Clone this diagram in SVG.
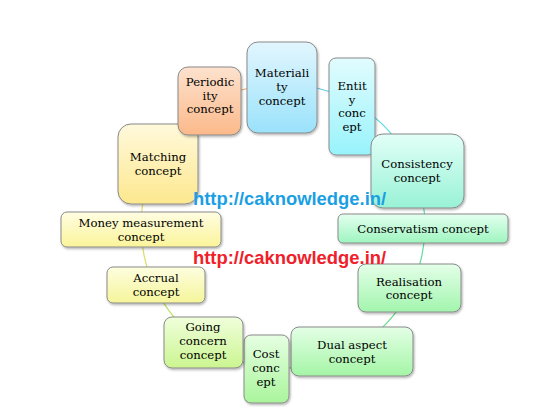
<svg xmlns="http://www.w3.org/2000/svg" width="555" height="415" viewBox="0 0 555 415">
<style>
.n rect{stroke:#8a8a8a;stroke-width:1;filter:url(#sh)}
.n text{font-family:"DejaVu Serif","Liberation Serif",serif;font-size:11.7px;fill:#000;text-anchor:middle}
.c path{fill:none;stroke-width:1.2}
.w{font-family:"Liberation Sans",Arial,sans-serif;font-size:18.4px;font-weight:bold}
</style>
<defs>
<filter id="sh" x="-20%" y="-20%" width="140%" height="140%"><feDropShadow dx="1" dy="1.5" stdDeviation="1.2" flood-color="#000" flood-opacity="0.3"/></filter>
<linearGradient id="gMat" x1="0" y1="0" x2="0" y2="1"><stop offset="0" stop-color="#e2f6fe"/><stop offset="1" stop-color="#9ae2fb"/></linearGradient>
<linearGradient id="gEnt" x1="0" y1="0" x2="0" y2="1"><stop offset="0" stop-color="#e2fcfe"/><stop offset="1" stop-color="#98f3fb"/></linearGradient>
<linearGradient id="gCon" x1="0" y1="0" x2="0" y2="1"><stop offset="0" stop-color="#e2fff7"/><stop offset="1" stop-color="#98f2d6"/></linearGradient>
<linearGradient id="gCsv" x1="0" y1="0" x2="0" y2="1"><stop offset="0" stop-color="#e4fff0"/><stop offset="1" stop-color="#9ef5bf"/></linearGradient>
<linearGradient id="gRea" x1="0" y1="0" x2="0" y2="1"><stop offset="0" stop-color="#e4ffe8"/><stop offset="1" stop-color="#a2f5ae"/></linearGradient>
<linearGradient id="gDua" x1="0" y1="0" x2="0" y2="1"><stop offset="0" stop-color="#e4ffe6"/><stop offset="1" stop-color="#a4f5a6"/></linearGradient>
<linearGradient id="gCos" x1="0" y1="0" x2="0" y2="1"><stop offset="0" stop-color="#e6ffe2"/><stop offset="1" stop-color="#aaf59c"/></linearGradient>
<linearGradient id="gGoi" x1="0" y1="0" x2="0" y2="1"><stop offset="0" stop-color="#f0ffdc"/><stop offset="1" stop-color="#cbf590"/></linearGradient>
<linearGradient id="gAcc" x1="0" y1="0" x2="0" y2="1"><stop offset="0" stop-color="#fdfee0"/><stop offset="1" stop-color="#f5f59a"/></linearGradient>
<linearGradient id="gMon" x1="0" y1="0" x2="0" y2="1"><stop offset="0" stop-color="#fffde2"/><stop offset="1" stop-color="#fbf49a"/></linearGradient>
<linearGradient id="gMtc" x1="0" y1="0" x2="0" y2="1"><stop offset="0" stop-color="#fff9dc"/><stop offset="1" stop-color="#fde88e"/></linearGradient>
<linearGradient id="gPer" x1="0" y1="0" x2="0" y2="1"><stop offset="0" stop-color="#fde2ce"/><stop offset="1" stop-color="#fbb98a"/></linearGradient>
</defs>
<rect width="555" height="415" fill="#fff"/>
<g id="connectors" class="c">
<path d="M283,84 A142,142 0 0 1 354,103" stroke="#5ec6e8"/>
<path d="M354,103 A142,142 0 0 1 414.7,172.8" stroke="#5fdcdc"/>
<path d="M414.7,172.8 A142,142 0 0 1 425,228.5" stroke="#5fdcb8"/>
<path d="M425,228.5 A142,142 0 0 1 410.6,288.2" stroke="#5fdca0"/>
<path d="M410.6,288.2 A142,142 0 0 1 351.8,350.2" stroke="#66dc8c"/>
<path d="M351.8,350.2 A142,142 0 0 1 265.7,367" stroke="#80dc78"/>
<path d="M265.7,367 A142,142 0 0 1 201.5,342.3" stroke="#a0dc68"/>
<path d="M201.5,342.3 A142,142 0 0 1 154.3,286" stroke="#b8e060"/>
<path d="M154.3,286 A142,142 0 0 1 141,228.5" stroke="#d8e060"/>
<path d="M141,228.5 A142,142 0 0 1 155.4,163.8" stroke="#e6dc60"/>
<path d="M155.4,163.8 A142,142 0 0 1 212,103" stroke="#f0c070"/>
<path d="M212,103 A142,142 0 0 1 283,84" stroke="#f4a868"/>
</g>
<g id="materiality" class="n"><rect x="247" y="42" width="70" height="91" rx="11" fill="url(#gMat)"/><text x="282" y="77">Materiali</text><text x="282" y="91">ty</text><text x="282" y="105">concept</text></g>
<g id="entity" class="n"><rect x="329" y="58" width="46" height="97" rx="7" fill="url(#gEnt)"/><text x="352" y="90">Entit</text><text x="352" y="104">y</text><text x="352" y="117">conc</text><text x="352" y="131">ept</text></g>
<g id="consistency" class="n"><rect x="371" y="134" width="93" height="74" rx="12" fill="url(#gCon)"/><text x="417" y="168">Consistency</text><text x="417" y="182">concept</text></g>
<g id="conservatism" class="n"><rect x="338" y="214" width="170" height="29" rx="5" fill="url(#gCsv)"/><text x="423" y="233">Conservatism concept</text></g>
<g id="realisation" class="n"><rect x="358" y="264" width="103" height="48" rx="8" fill="url(#gRea)"/><text x="409" y="286">Realisation</text><text x="409" y="299">concept</text></g>
<g id="dual-aspect" class="n"><rect x="291" y="327" width="122" height="49" rx="8" fill="url(#gDua)"/><text x="352" y="349">Dual aspect</text><text x="352" y="363">concept</text></g>
<g id="cost" class="n"><rect x="244" y="335" width="45" height="68" rx="7" fill="url(#gCos)"/><text x="266" y="358">Cost</text><text x="266" y="372">conc</text><text x="266" y="386">ept</text></g>
<g id="going-concern" class="n"><rect x="164" y="317" width="79" height="51" rx="8" fill="url(#gGoi)"/><text x="203" y="331">Going</text><text x="203" y="345">concern</text><text x="203" y="359">concept</text></g>
<g id="accrual" class="n"><rect x="107" y="267" width="98" height="36" rx="6" fill="url(#gAcc)"/><text x="156" y="282">Accrual</text><text x="156" y="296">concept</text></g>
<g id="money-measurement" class="n"><rect x="61" y="212" width="160" height="35" rx="6" fill="url(#gMon)"/><text x="141" y="227">Money measurement</text><text x="141" y="241">concept</text></g>
<g id="matching" class="n"><rect x="118" y="124" width="80" height="80" rx="13" fill="url(#gMtc)"/><text x="158" y="161">Matching</text><text x="158" y="175">concept</text></g>
<g id="periodicity" class="n"><rect x="178" y="67" width="63" height="68" rx="10" fill="url(#gPer)"/><text x="210" y="86">Periodic</text><text x="210" y="100">ity</text><text x="210" y="113">concept</text></g>
<text class="w" x="193" y="205" fill="#1a9fe3">http://caknowledge.in/</text>
<text class="w" x="193" y="264" fill="#f0202a">http://caknowledge.in/</text>
</svg>
